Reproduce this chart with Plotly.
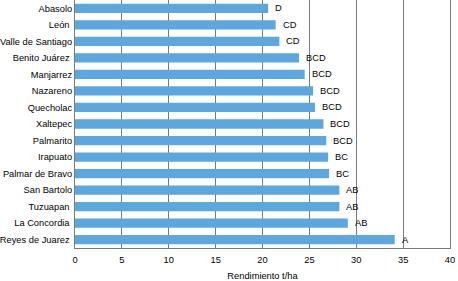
import plotly.graph_objects as go

categories = ["Abasolo", "León\u00a0", "Valle de Santiago", "Benito Juárez\u00a0", "Manjarrez",
              "Nazareno", "Quecholac", "Xaltepec", "Palmarito", "Irapuato",
              "Palmar de Bravo", "San Bartolo", "Tuzuapan\u00a0", "La Concordia\u00a0", "Reyes de Juarez\u00a0"]
values = [20.6, 21.4, 21.8, 23.9, 24.5, 25.4, 25.6, 26.5, 26.8, 27.0, 27.1, 28.2, 28.2, 29.1, 34.1]
letters = ["D", "CD", "CD", "BCD", "BCD", "BCD", "BCD", "BCD", "BCD", "BC", "BC", "AB", "AB", "AB", "A"]
x_ticks = [0, 5, 10, 15, 20, 25, 30, 35, 40]

FONT = "Liberation Sans, Arial, sans-serif"

fig = go.Figure()
fig.add_trace(go.Bar(
    y=categories, x=values, orientation="h",
    marker=dict(color="#5BA7DE", line=dict(width=0)),
    width=0.56,
))

for c, v, t in zip(categories, values, letters):
    fig.add_annotation(x=v, y=c, text=t, showarrow=False, xanchor="left", yanchor="middle",
                       xshift=5, font=dict(family=FONT, size=9.3, color="#000000"))

fig.update_layout(
    width=458, height=281,
    margin=dict(l=75, r=8, t=0, b=33),
    paper_bgcolor="white", plot_bgcolor="white",
    showlegend=False,
    font=dict(family=FONT, size=9.3, color="#000000"),
    bargap=0.44,
)
fig.update_xaxes(
    range=[0, 40], tickvals=x_ticks, ticktext=[str(v) for v in x_ticks],
    showgrid=True, gridcolor="#7a7a7a", gridwidth=1,
    showline=True, linecolor="#7a7a7a", linewidth=1,
    zeroline=False, ticks="", automargin=False, ticklabelstandoff=3,
    tickfont=dict(family=FONT, size=9.3, color="#000000"),
    title=dict(text="Rendimiento t/ha", font=dict(family=FONT, size=9.3, color="#000000"), standoff=9),
)
fig.update_yaxes(
    categoryorder="array", categoryarray=categories, autorange="reversed",
    showgrid=False, showline=True, linecolor="#7a7a7a", linewidth=1, mirror=True,
    ticks="", automargin=False,
    tickfont=dict(family=FONT, size=9.3, color="#000000"),
)

fig.write_html("out.html", config={"displayModeBar": False},
               post_script="document.body.style.margin='0';document.body.style.padding='0';")
